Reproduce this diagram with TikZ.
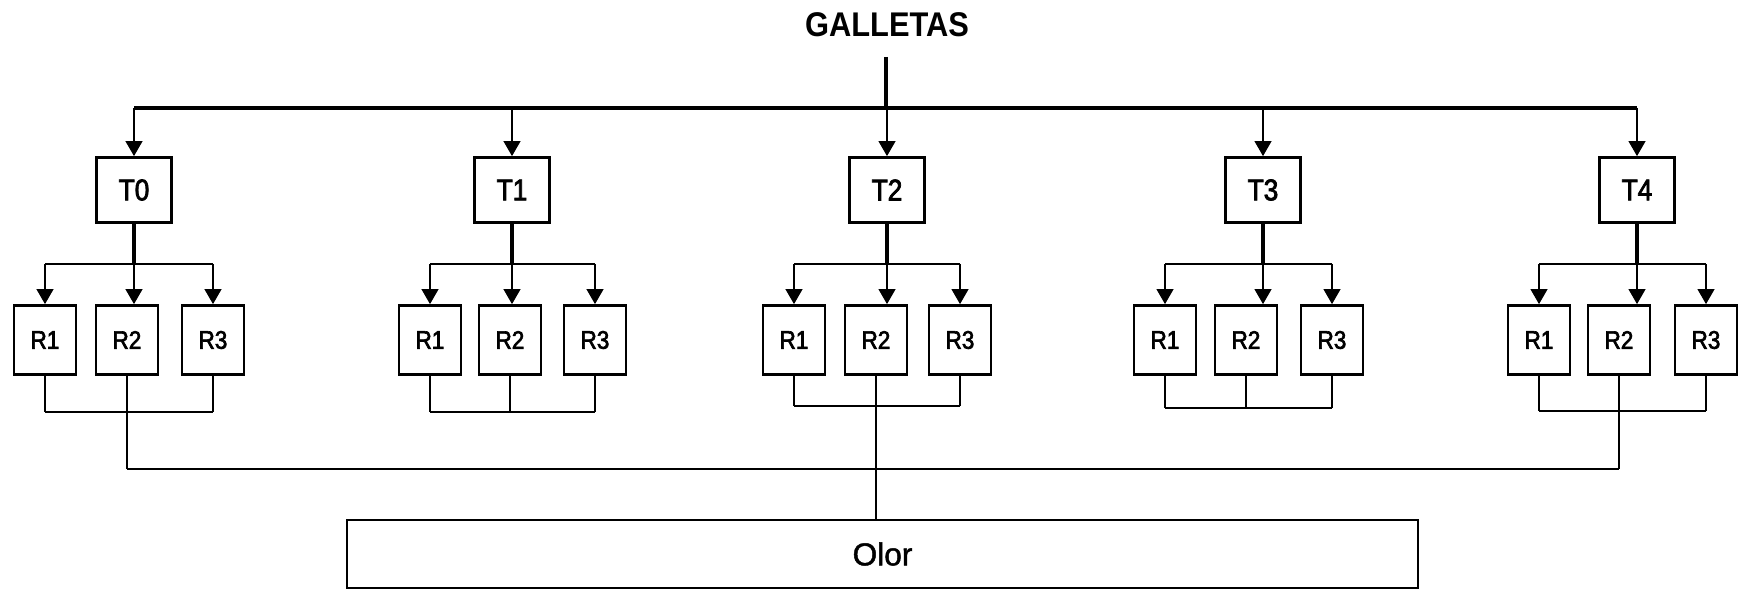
\documentclass[tikz,border=0pt]{standalone}
\usepackage{fontspec}
\setmainfont{Liberation Sans}
\newfontfamily\labelfont[FakeBold=2.5,FakeStretch=0.88]{Liberation Sans}
\newfontfamily\widelabelfont[FakeBold=1.5]{Liberation Sans}
\newfontfamily\titlefont[FakeStretch=0.9]{Liberation Sans Bold}
\usetikzlibrary{arrows.meta}
\begin{document}
\begin{tikzpicture}[x=0.02cm,y=-0.02cm,
  tip/.style={-{Triangle[width=0.33cm,length=0.3cm]}},
  tbox/.style={draw,line width=1.5pt,minimum width=1.5cm,minimum height=1.3cm,inner sep=0pt,font=\labelfont\fontsize{17}{19}\selectfont},
  rbox/.style={draw,line width=1.5pt,minimum width=1.24cm,minimum height=1.38cm,inner sep=0pt,font=\labelfont\fontsize{14.5}{16}\selectfont},
  obox/.style={draw,line width=1.1pt,minimum width=21.42cm,minimum height=1.36cm,inner sep=0pt,font=\widelabelfont\fontsize{18}{20}\selectfont},
  stemline/.style={line width=2.8pt},
  mainbar/.style={line width=2pt},
  feed/.style={tip,line width=1.4pt},
  dropline/.style={line width=2.3pt},
  branchline/.style={line width=1.7pt},
  tieline/.style={line width=0.9pt},
  busline/.style={line width=1.2pt}]
\useasboundingbox (0,0) rectangle (1744,590);

% title and main stem
\node[font=\titlefont\fontsize{19.5}{21}\selectfont] (title) at (887,24.5) {GALLETAS};
\coordinate (stemtop) at (886,57);
\coordinate (bar) at (0,108);
\coordinate (bus) at (0,469);

% treatments T0..T4 with their replicates R1..R3
\foreach \i/\tx/\ax/\bx/\cx/\jy in {0/134/45/127/213/412, 1/512/430/510/595/412,
    2/887/794/876/960/406, 3/1263/1165/1246/1332/408, 4/1637/1539/1619/1706/411} {
  \node[tbox] (T\i) at (\tx,190) {T\i};
  \node[rbox] (R\i-1) at (\ax,340) {R1};
  \node[rbox] (R\i-2) at (\bx,340) {R2};
  \node[rbox] (R\i-3) at (\cx,340) {R3};
  \coordinate (br\i) at (0,264);
  \coordinate (jn\i) at (0,\jy);
  % arrow from the main bar into the treatment
  \draw[feed] (T\i.north |- bar) -- (T\i.north);
  % treatment splits into the three replicates
  \draw[dropline] (T\i.south) -- (T\i.south |- br\i);
  \draw[branchline] (R\i-1.north |- br\i) -- (R\i-3.north |- br\i);
  \draw[feed] (R\i-1.north |- br\i) -- (R\i-1.north);
  \draw[feed] (T\i.south |- br\i) -- (T\i.south |- R\i-2.north);
  \draw[feed] (R\i-3.north |- br\i) -- (R\i-3.north);
  % replicates joined underneath
  \draw[tieline] (R\i-1.south) -- (R\i-1.south |- jn\i);
  \draw[tieline] (R\i-3.south) -- (R\i-3.south |- jn\i);
  \draw[branchline] (R\i-1.south |- jn\i) -- (R\i-3.south |- jn\i);
}

\draw[stemline] (stemtop) -- (stemtop |- bar);
\draw[mainbar] (T0.north |- bar) -- (T4.north |- bar);

% middle replicates of T1 and T3 meet their join line
\draw[tieline] (R1-2.south) -- (R1-2.south |- jn1);
\draw[tieline] (R3-2.south) -- (R3-2.south |- jn3);

% evaluation box
\node[obox] (olor) at (882.5,554) {Olor};

% T0 and T4 middle replicates linked by a long line; T2 goes down to the box
\draw[tieline] (R0-2.south) -- (R0-2.south |- bus);
\draw[tieline] (R4-2.south) -- (R4-2.south |- bus);
\draw[busline] (R0-2.south |- bus) -- (R4-2.south |- bus);
\draw[tieline] (R2-2.south) -- (R2-2.south |- olor.north);
\end{tikzpicture}
\end{document}
